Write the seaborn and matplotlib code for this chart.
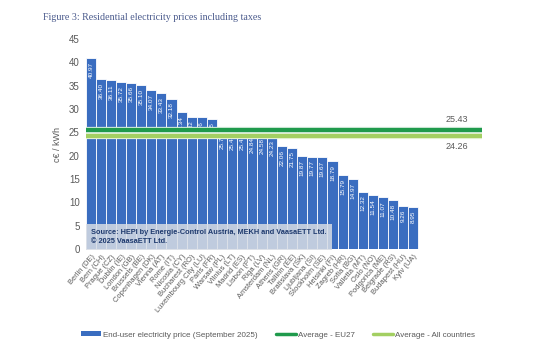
import matplotlib
matplotlib.use('Agg')
import pandas as pd
import matplotlib.pyplot as plt
import seaborn as sns
from matplotlib.patches import Patch
from matplotlib.lines import Line2D

# Datos
ciudades = ['Berlin (DE)', 'Bern (CH)', 'Prague (CZ)', 'Dublin (IE)', 'London (GB)',
            'Brussels (BE)', 'Copenhagen (DK)', 'Vienna (AT)', 'Rome (IT)', 'Nicosia (CY)',
            'Bucharest (RO)', 'Luxembourg City (LU)', 'Paris (FR)', 'Warsaw (PL)',
            'Vilnius (LT)', 'Madrid (ES)', 'Lisbon (PT)', 'Riga (LV)', 'Amsterdam (NL)',
            'Athens (GR)', 'Tallinn (EE)', 'Bratislava (SK)', 'Ljubljana (SI)',
            'Stockholm (SE)', 'Helsinki (FI)', 'Zagreb (HR)', 'Sofia (BG)', 'Valletta (MT)',
            'Oslo (NO)', 'Podgorica (ME)', 'Belgrade (RS)', 'Budapest (HU)', 'Kyiv (UA)']
precios = [40.97, 36.40, 36.11, 35.72, 35.66, 35.10, 34.07, 33.43, 32.18, 29.34,
           28.32, 28.26, 27.95, 25.74, 25.48, 25.43, 24.84, 24.58, 24.23, 22.06,
           21.75, 19.87, 19.77, 19.67, 18.79, 15.79, 14.97, 12.32, 11.54, 11.07,
           10.48, 9.26, 8.95]
media_eu27 = 25.43
media_todos = 24.26

azul = '#3A6DC0'
verde_osc = '#1F9A4C'
verde_cla = '#A3CF62'
gris = '#595959'

df = pd.DataFrame({'ciudad': ciudades, 'precio': precios})

sns.set_style('white')
plt.rcParams['font.family'] = ['Liberation Sans', 'DejaVu Sans']

fig = plt.figure(figsize=(5.4, 3.5), dpi=100)
ax = fig.add_axes([86 / 540, 101 / 350, 396 / 540, 210 / 350])

sns.barplot(data=df, x='ciudad', y='precio', color=azul, width=1.0,
            edgecolor='white', linewidth=0.6, saturation=1, ax=ax)

# etiquetas de valor dentro de las barras
for i, v in enumerate(precios):
    ax.text(i, v - 0.8, f'{v:.2f}', rotation=90, ha='center', va='top',
            color='white', fontsize=4.6)

# lineas de media
ax.axhline(media_todos, color='#E6F2D6', lw=4.5, zorder=3)
ax.axhline(media_todos, color=verde_cla, lw=3, zorder=3)
ax.axhline(media_eu27, color='#D4EBDC', lw=4.5, zorder=4)
ax.axhline(media_eu27, color=verde_osc, lw=3, zorder=4)
ax.text(36.4, media_eu27 + 1.3, f'{media_eu27:.2f}', ha='center', va='bottom',
        fontsize=6.5, color=gris)
ax.text(36.4, media_todos - 1.3, f'{media_todos:.2f}', ha='center', va='top',
        fontsize=6.5, color=gris)

ax.set_xlim(-0.5, 38.86)
ax.set_ylim(0, 45)
ax.set_yticks(range(0, 46, 5))
ax.tick_params(axis='y', labelsize=7, colors=gris, length=0, pad=4.5)
ax.tick_params(axis='x', labelsize=5.4, colors=gris, length=0, pad=3)
plt.setp(ax.get_xticklabels(), rotation=50, ha='right', rotation_mode='anchor')
ax.set_xlabel('')
ax.set_ylabel('c€ / kWh', fontsize=6.5, color=gris)
ax.yaxis.set_label_coords(-24 / 396, (249 - 145) / 210, transform=ax.transAxes)
sns.despine(ax=ax, left=True, bottom=True)

# caja de fuente
ax.text(0.0, 2.6, 'Source: HEPI by Energie-Control Austria, MEKH and VaasaETT Ltd.\n© 2025 VaasaETT Ltd.',
        fontsize=5.3, color='#1F3A6E', fontweight='bold', va='center', ha='left',
        linespacing=1.3, zorder=6,
        bbox=dict(boxstyle='square,pad=0.7', facecolor='#D7DCE4', edgecolor='none', alpha=0.85))

fig.text(43 / 540, 1 - 18 / 350, 'Figure 3: Residential electricity prices including taxes',
         fontsize=7.2, color='#4A5A8C', family=['Liberation Serif', 'DejaVu Serif'], va='center')

handles = [Patch(facecolor=azul, edgecolor='none'),
           Line2D([], [], color=verde_osc, lw=2.5),
           Line2D([], [], color=verde_cla, lw=2.5)]
etiquetas = ['End-user electricity price (September 2025)', 'Average - EU27', 'Average - All countries']
fig.legend(handles, etiquetas, loc='center', bbox_to_anchor=(278 / 540, 15 / 350), ncol=3,
           frameon=False, fontsize=5.8, handlelength=2.5, handleheight=0.5,
           handletextpad=0.2, columnspacing=2.3, labelcolor=gris)

fig.savefig('out.png', dpi=100)
